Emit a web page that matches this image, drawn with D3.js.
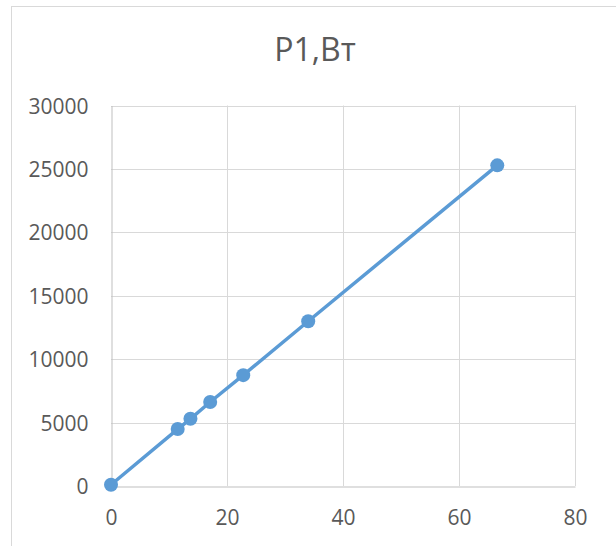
<!DOCTYPE html>
<html><head><meta charset="utf-8">
<script src="https://cdn.jsdelivr.net/npm/d3@7"></script>
<style>
html,body{margin:0;padding:0;background:#fff;}
text{font-family:"Open Sans","Noto Sans",sans-serif;fill:#595959;}
</style></head>
<body><svg id="c" width="616" height="546"></svg>
<script>
const title = "P1,Вт";
const xValues = [0, 11.5, 13.7, 17.1, 22.8, 34.0, 66.6];
const yValues = [100, 4490, 5300, 6620, 8740, 12990, 25280];
const xTicks = [0, 20, 40, 60, 80];
const yTicks = [0, 5000, 10000, 15000, 20000, 25000, 30000];

const svg = d3.select("#c");
// chart border
svg.append("rect").attr("x",11.5).attr("y",6.5).attr("width",620).attr("height",560)
  .attr("fill","none").attr("stroke","#d9d9d9").attr("stroke-width",1);

const x = d3.scaleLinear().domain([0,80]).range([111,575]);
const y = d3.scaleLinear().domain([0,30000]).range([486,105.5]);

// gridlines
svg.append("g").selectAll("line.h").data(yTicks.slice(1)).join("line")
  .attr("x1",x(0)).attr("x2",x(80)).attr("y1",d=>Math.round(y(d))+0.5).attr("y2",d=>Math.round(y(d))+0.5)
  .attr("stroke","#d9d9d9").attr("stroke-width",1);
svg.append("g").selectAll("line.v").data(xTicks.slice(1)).join("line")
  .attr("y1",y(0)).attr("y2",y(30000)).attr("x1",d=>Math.round(x(d))+0.5).attr("x2",d=>Math.round(x(d))+0.5)
  .attr("stroke","#d9d9d9").attr("stroke-width",1);

// axes
const fmt = d3.format("d");
const xAxis = d3.axisBottom(x).tickValues(xTicks).tickFormat(fmt).tickSize(0);
const gx = svg.append("g").attr("transform",`translate(0,${Math.round(y(0))+0.5})`).call(xAxis);
gx.select(".domain").attr("stroke","#bfbfbf");
gx.selectAll("text").style("font-size","21px").attr("fill","#595959").attr("dy","0").attr("y",38.5);

const yAxis = d3.axisLeft(y).tickValues(yTicks).tickFormat(fmt).tickSize(0).tickPadding(23);
const gy = svg.append("g").attr("transform",`translate(${Math.round(x(0))+0.5},0)`).call(yAxis);
gy.select(".domain").attr("stroke","#bfbfbf");
gy.selectAll("text").style("font-size","21px").attr("fill","#595959").attr("dy","0.36em");

// title
svg.append("text").attr("x",315).attr("y",61).attr("text-anchor","middle")
  .style("font-size","32px").attr("fill","#595959").text(title);

// line + markers
const data = xValues.map((v,i)=>[v,yValues[i]]);
svg.append("path").datum(data)
  .attr("d",d3.line().x(d=>x(d[0])).y(d=>y(d[1])))
  .attr("fill","none").attr("stroke","#5b9bd5").attr("stroke-width",3.5).attr("stroke-linecap","round");
svg.append("g").selectAll("circle").data(data).join("circle")
  .attr("cx",d=>x(d[0])).attr("cy",d=>y(d[1])).attr("r",7).attr("fill","#5b9bd5");
</script></body></html>
